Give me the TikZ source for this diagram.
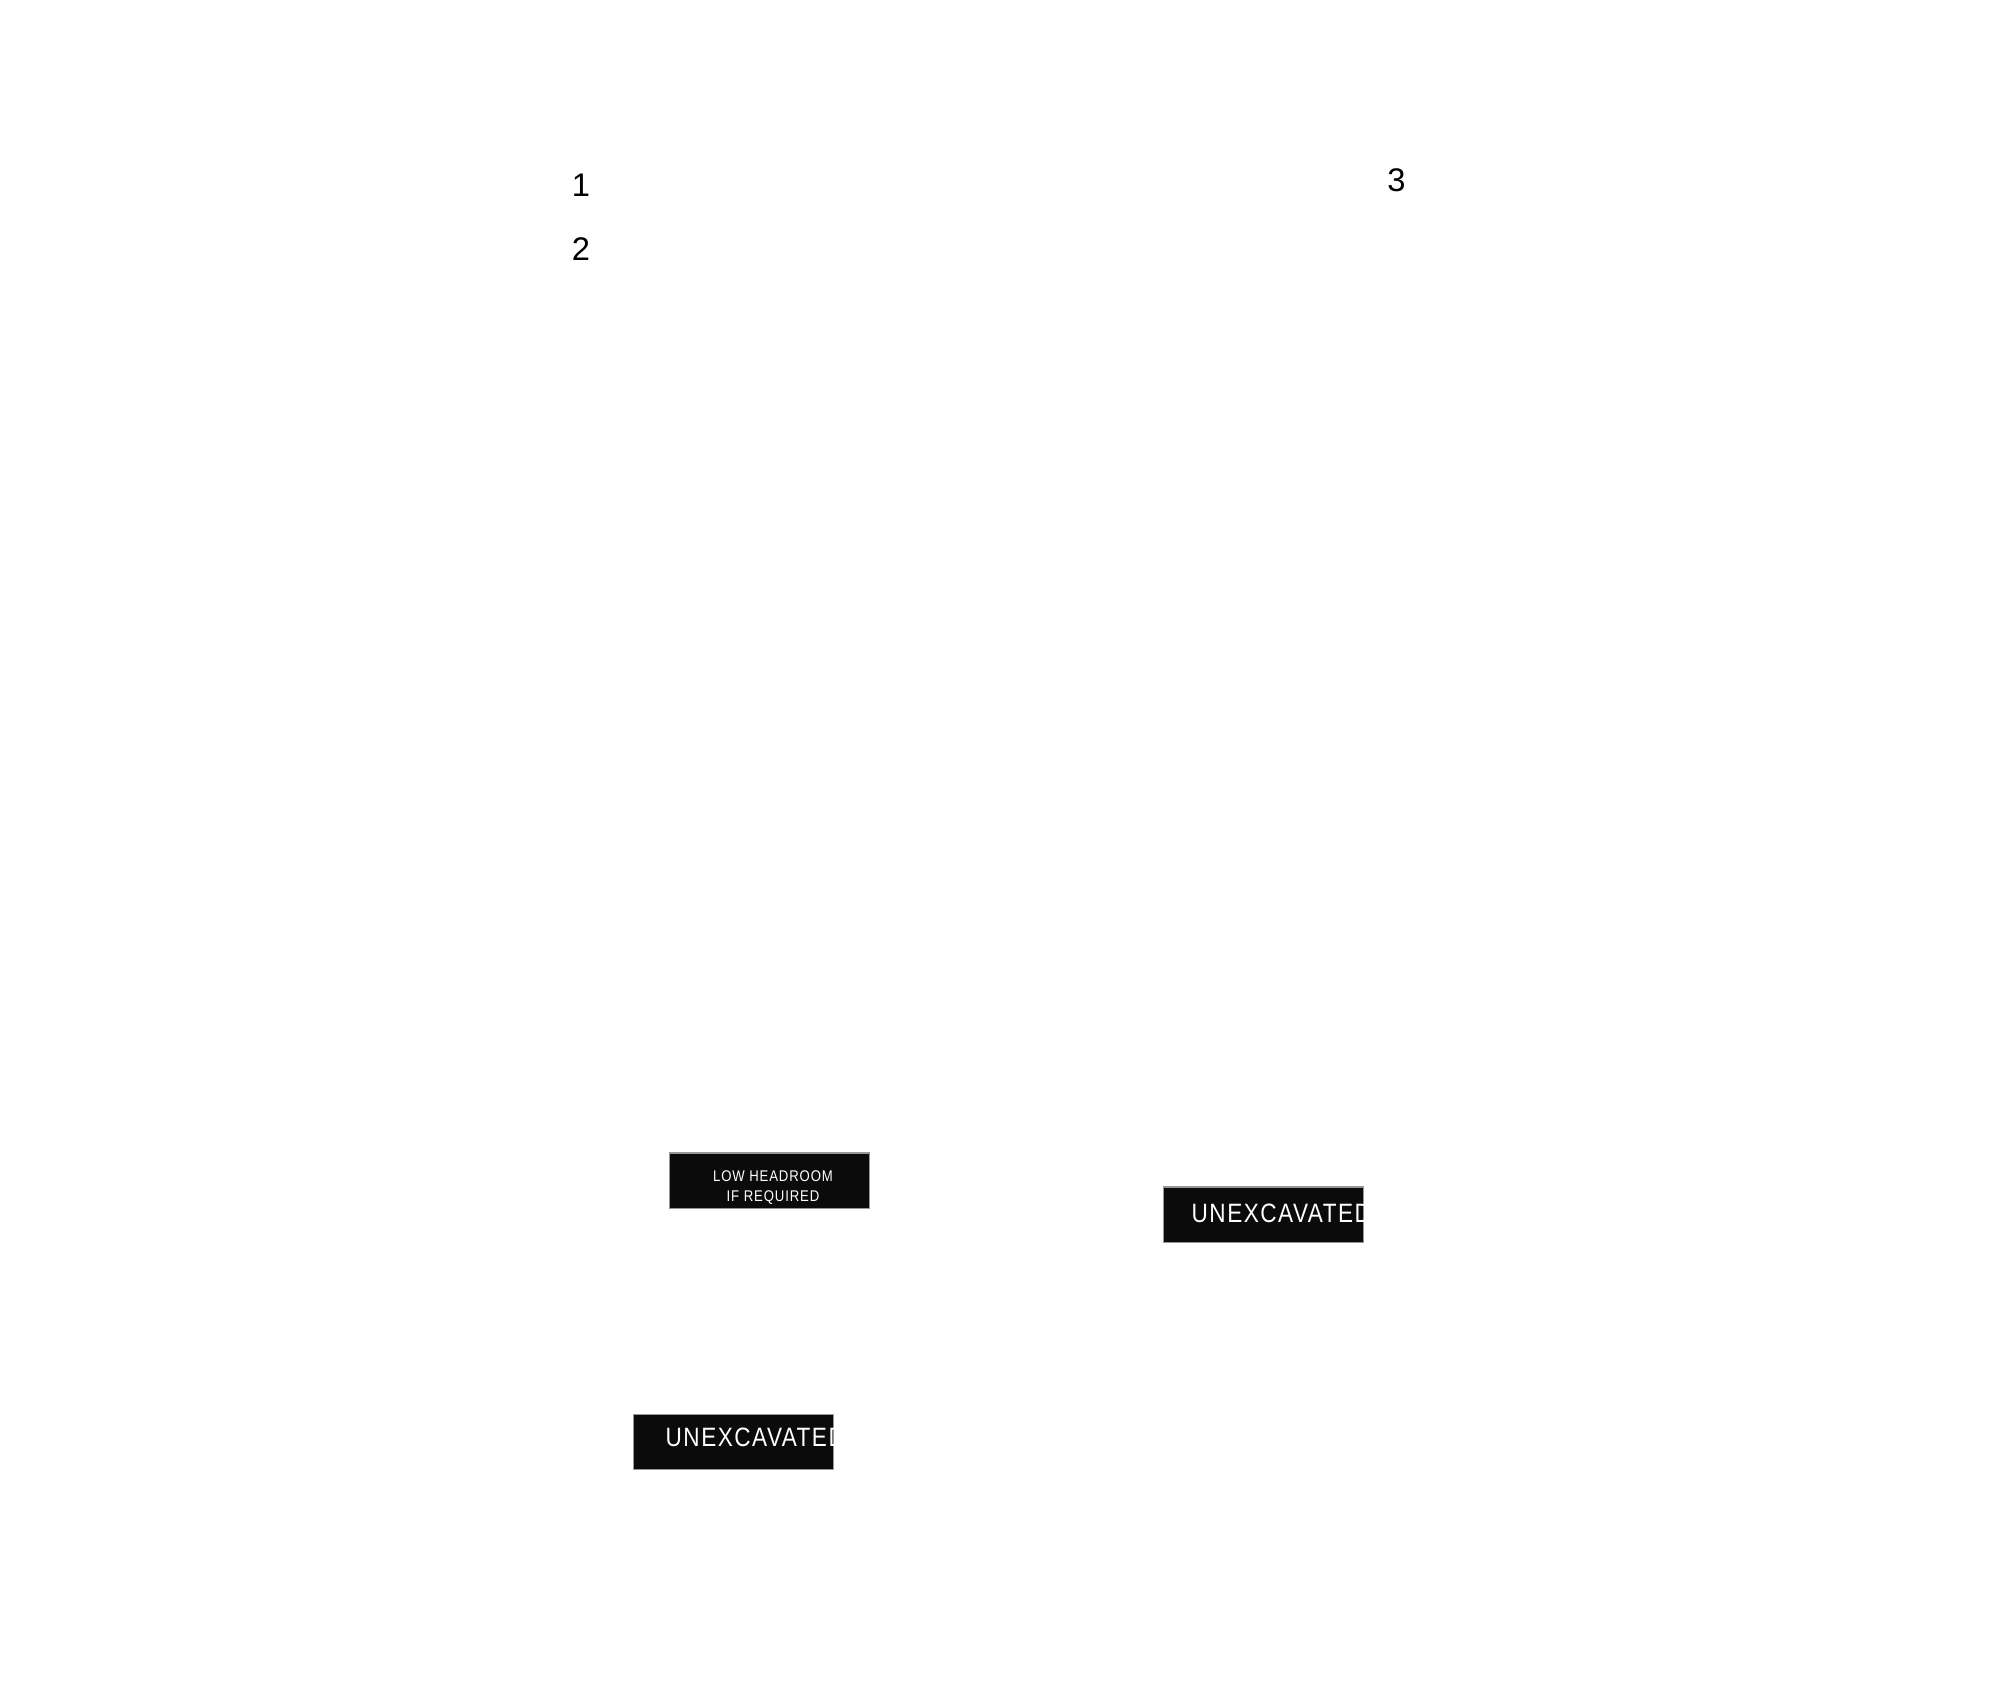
\documentclass[tikz,border=0pt]{standalone}
\usepackage{fontspec}
\setmainfont{Liberation Sans}
\newfontfamily\tagfont[FakeStretch=0.85, LetterSpace=5.6]{Liberation Sans}
\usetikzlibrary{positioning}
\definecolor{tagblack}{RGB}{11,11,11}
\definecolor{taggray}{RGB}{150,150,150}

\begin{document}
\begin{tikzpicture}[x=0.01cm, y=-0.01cm,
  tagbox/.style={draw=taggray, line width=0.3pt, fill=tagblack,
    minimum width=1.99cm, minimum height=0.55cm, inner sep=0pt},
  tagtext/.style={text=white, inner sep=0pt, anchor=base west,
    font=\tagfont\fontsize{7.55}{9}\selectfont},
  numlabel/.style={inner sep=0pt, anchor=base, font=\fontsize{9.3}{11}\selectfont}]
\useasboundingbox (0,0) rectangle (2000,1706);
% Numbers
\node[numlabel] (num1) at (581,197) {1};
\node[numlabel] (num2) at (581,260) {2};
\node[numlabel] (num3) at (1396.5,192) {3};
% Tags
\node[tagbox] (lowbox) at (769.5,1180.5) {};
\node[text=white, inner sep=0pt, align=center,
      font=\tagfont\fontsize{4.4}{5.69}\selectfont] (lowtext) at (773,1188)
      {LOW HEADROOM\\IF REQUIRED};
\node[tagbox] (unexbox1) at (1263.5,1214.5) {};
\begin{scope}
  \clip (unexbox1.south west) rectangle (unexbox1.north east);
  \node[tagtext] (unextext1) at (1191,1222) {UNEXCAVATED};
\end{scope}
\node[tagbox] (unexbox2) at (733.5,1442) {};
\begin{scope}
  \clip (unexbox2.south west) rectangle (unexbox2.north east);
  \node[tagtext] (unextext2) at (665,1446) {UNEXCAVATED};
\end{scope}
\end{tikzpicture}
\end{document}
